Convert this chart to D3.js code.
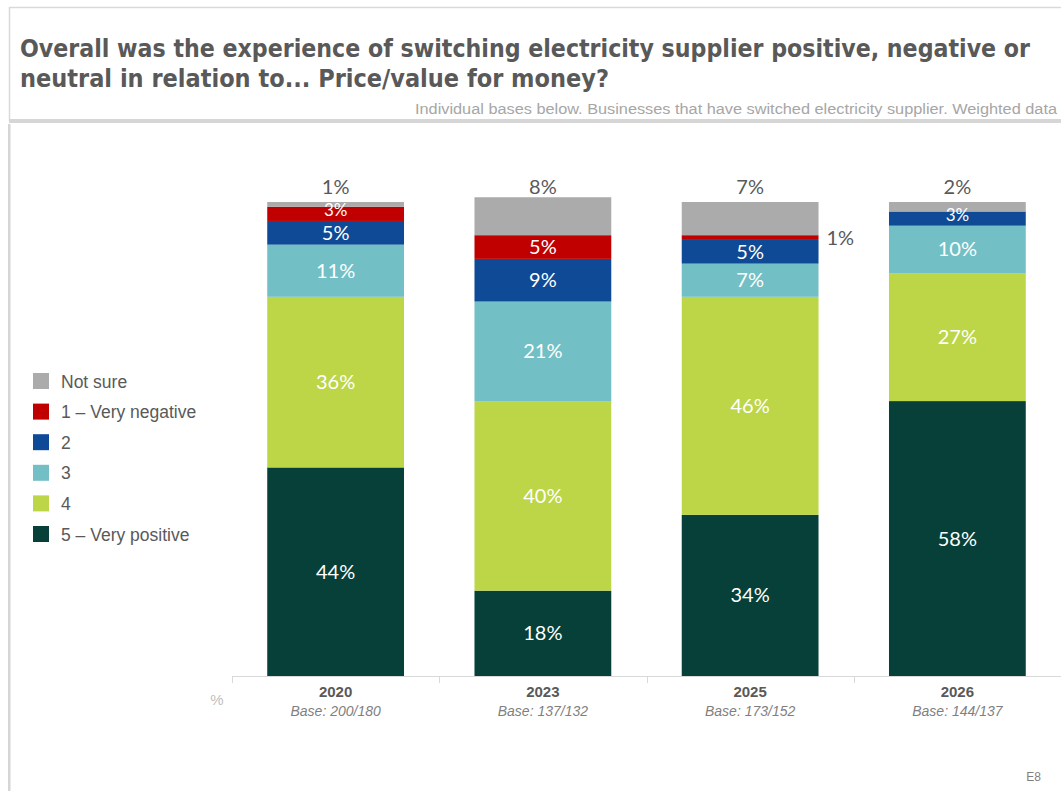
<!DOCTYPE html>
<html>
<head>
<meta charset="utf-8">
<script src="https://cdn.jsdelivr.net/npm/d3@7/dist/d3.min.js"></script>
<style>
  html, body { margin: 0; padding: 0; background: #fff; }
  svg { display: block; }
</style>
</head>
<body>
<svg id="chart" width="1061" height="791"></svg>
<script>
// Survey years and their base sizes
const years = ["2020", "2023", "2025", "2026"];
const bases = ["Base: 200/180", "Base: 137/132", "Base: 173/152", "Base: 144/137"];

// Response categories, bottom of the stack first
const categories = ["5 – Very positive", "4", "3", "2", "1 – Very negative", "Not sure"];
const colors = ["#064038", "#bcd648", "#72bfc5", "#0e4a96", "#c00000", "#ababab"];

// Percentages per category, one value per year
const veryPositive = [44, 18, 34, 58];
const four = [36, 40, 46, 27];
const three = [11, 21, 7, 10];
const two = [5, 9, 5, 3];
const veryNegative = [3, 5, 1, 0];
const notSure = [1, 8, 7, 2];

const seriesValues = [veryPositive, four, three, two, veryNegative, notSure];

const title1 = "Overall was the experience of switching electricity supplier positive, negative or";
const title2 = "neutral in relation to... Price/value for money?";
const subtitle = "Individual bases below. Businesses that have switched electricity supplier. Weighted data";

const svg = d3.select("#chart");

// Frame around the title and the chart panel
svg.append("line").attr("x1", 9).attr("x2", 1061).attr("y1", 7.5).attr("y2", 7.5)
  .attr("stroke", "#d9d9d9").attr("stroke-width", 1.5);
svg.append("line").attr("x1", 9.5).attr("x2", 9.5).attr("y1", 7).attr("y2", 121)
  .attr("stroke", "#d9d9d9").attr("stroke-width", 1.5);
svg.append("rect").attr("x", 9).attr("y", 119).attr("width", 1052).attr("height", 4)
  .attr("fill", "#d6d6d6");
svg.append("rect").attr("x", 8).attr("y", 124).attr("width", 2.5).attr("height", 667)
  .attr("fill", "#d6d6d6");

// Title
const titleFont = "'DejaVu Sans Condensed', 'DejaVu Sans', sans-serif";
svg.append("text").attr("x", 20).attr("y", 57)
  .attr("font-family", titleFont).attr("font-weight", "bold").attr("font-size", 24)
  .attr("fill", "#595959")
  .attr("textLength", 1010).attr("lengthAdjust", "spacingAndGlyphs")
  .text(title1);
svg.append("text").attr("x", 20).attr("y", 87)
  .attr("font-family", titleFont).attr("font-weight", "bold").attr("font-size", 24)
  .attr("fill", "#595959")
  .attr("textLength", 589).attr("lengthAdjust", "spacingAndGlyphs")
  .text(title2);

svg.append("text").attr("x", 1057).attr("y", 114).attr("text-anchor", "end")
  .attr("font-family", "'Liberation Sans', Arial, sans-serif").attr("font-size", 14)
  .attr("fill", "#a6a6a6")
  .attr("textLength", 642).attr("lengthAdjust", "spacingAndGlyphs")
  .text(subtitle);

// Scales
const x = d3.scaleBand().domain(years).range([232, 1061]).paddingInner(0.34).paddingOuter(0.17);
const y = d3.scaleLinear().domain([0, 100]).range([676, 202]);

// Stack the data
const rows = years.map((yr, i) => {
  const r = { year: yr };
  categories.forEach((c, k) => { r[c] = seriesValues[k][i]; });
  return r;
});
const stacked = d3.stack().keys(categories)(rows);

const labelFont = "Lato, 'Open Sans', sans-serif";

const layers = svg.append("g").selectAll("g").data(stacked).join("g")
  .attr("fill", (d, i) => colors[i]);

layers.selectAll("rect").data(d => d).join("rect")
  .attr("x", d => x(d.data.year))
  .attr("width", x.bandwidth())
  .attr("y", d => y(d[1]))
  .attr("height", d => y(d[0]) - y(d[1]));

// Value labels
stacked.forEach((layer, k) => {
  const key = categories[k];
  layer.forEach(d => {
    const v = d.data[key];
    if (!v) return;
    const mid = (y(d[0]) + y(d[1])) / 2;
    let tx = x(d.data.year) + x.bandwidth() / 2, ty = mid + 7;
    let fill = "#ffffff", anchor = "middle", size = 20;
    if (key === "Not sure") {
      // "Not sure" values sit on a common line above the bars
      ty = Math.max(y(d[1]), y(100)) - 8; fill = "#595959";
    } else if (v <= 1) {
      tx = x(d.data.year) + x.bandwidth() + 8; anchor = "start"; fill = "#595959";
    } else if (v < 4) {
      // thin segments: smaller label sitting a little higher
      size = 17; ty = mid + 2.5;
    }
    svg.append("text")
      .attr("x", tx).attr("y", ty).attr("text-anchor", anchor)
      .attr("font-family", labelFont).attr("font-size", size)
      .attr("fill", fill)
      .text(v + "%");
  });
});

// X axis
const axisG = svg.append("g").attr("transform", "translate(0,676)");
axisG.append("line").attr("x1", 232).attr("x2", 1061).attr("y1", 0.5).attr("y2", 0.5)
  .attr("stroke", "#d9d9d9");
const step = x.step();
const bounds = d3.range(years.length + 1).map(i => 232 + i * step);
axisG.selectAll("line.tick").data(bounds).join("line").attr("class", "tick")
  .attr("x1", d => Math.round(d) + 0.5).attr("x2", d => Math.round(d) + 0.5)
  .attr("y1", 0).attr("y2", 7).attr("stroke", "#d9d9d9");

axisG.selectAll("text.year").data(years).join("text").attr("class", "year")
  .attr("x", d => x(d) + x.bandwidth() / 2).attr("y", 21)
  .attr("text-anchor", "middle")
  .attr("font-family", "'Liberation Sans', Arial, sans-serif")
  .attr("font-weight", "bold").attr("font-size", 15).attr("fill", "#595959")
  .text(d => d);
axisG.selectAll("text.base").data(years).join("text").attr("class", "base")
  .attr("x", d => x(d) + x.bandwidth() / 2).attr("y", 40)
  .attr("text-anchor", "middle")
  .attr("font-family", "'Liberation Sans', Arial, sans-serif")
  .attr("font-style", "italic").attr("font-size", 14).attr("fill", "#7f7f7f")
  .text((d, i) => bases[i]);

svg.append("text").attr("x", 217).attr("y", 705).attr("text-anchor", "middle")
  .attr("font-family", "'Liberation Sans', Arial, sans-serif").attr("font-size", 15)
  .attr("fill", "#bfbfbf").text("%");

// Legend, top to bottom
const legendItems = categories.map((c, k) => ({ name: c, color: colors[k] })).reverse();
const legend = svg.append("g").selectAll("g").data(legendItems).join("g")
  .attr("transform", (d, i) => `translate(33, ${373 + i * 30.6})`);
legend.append("rect").attr("width", 16).attr("height", 16)
  .attr("fill", d => d.color);
legend.append("text").attr("x", 28).attr("y", 14.5)
  .attr("font-family", "'Liberation Sans', Arial, sans-serif").attr("font-size", 17.5)
  .attr("fill", "#595959").text(d => d.name);

// Slide code
svg.append("text").attr("x", 1041).attr("y", 781).attr("text-anchor", "end")
  .attr("font-family", "'Liberation Sans', Arial, sans-serif").attr("font-size", 12)
  .attr("fill", "#7f7f7f").text("E8");
</script>
</body>
</html>
